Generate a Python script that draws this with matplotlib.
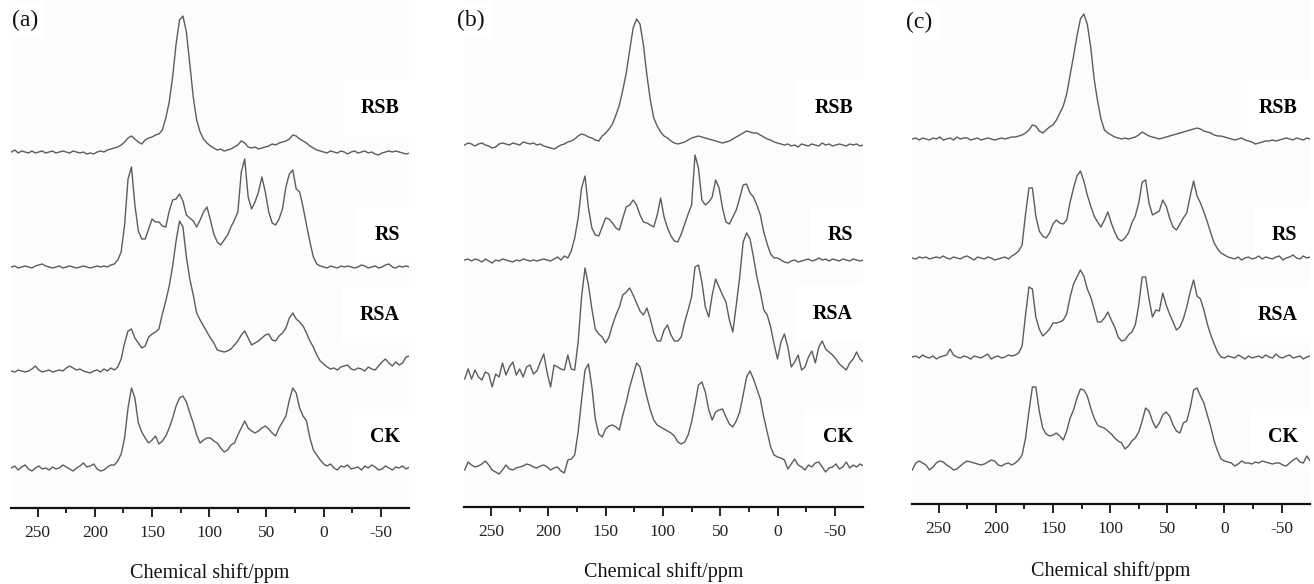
import matplotlib
matplotlib.use("Agg")
import matplotlib.pyplot as plt
from matplotlib.ticker import FixedLocator, MultipleLocator

plt.rcParams['font.family'] = ['Liberation Serif', 'DejaVu Serif']
plt.rcParams['axes.unicode_minus'] = False

# Chemical shift sampling positions (ppm)
ppm = [273, 270, 267, 264, 261, 258, 255, 252, 249, 246,
       243, 240, 237, 234, 231, 228, 225, 222, 219, 216,
       213, 210, 207, 204, 201, 198, 195, 192, 189, 186,
       183, 180, 177, 174, 171, 168, 165, 162, 159, 156,
       153, 150, 147, 144, 141, 138, 135, 132, 129, 126,
       123, 120, 117, 114, 111, 108, 105, 102, 99, 96,
       93, 90, 87, 84, 81, 78, 75, 72, 69, 66,
       63, 60, 57, 54, 51, 48, 45, 42, 39, 36,
       33, 30, 27, 24, 21, 18, 15, 12, 9, 6,
       3, 0, -3, -6, -9, -12, -15, -18, -21, -24,
       -27, -30, -33, -36, -39, -42, -45, -48, -51, -54,
       -57, -60, -63, -66, -69, -72, -75]

samples = ["RSB", "RS", "RSA", "CK"]
tick_values = [250, 200, 150, 100, 50, 0, -50]
panel_tags = ["(a)", "(b)", "(c)"]
x_label = "Chemical shift/ppm"

# ---- panel (a) intensities ----
a_rsb = [0, 2, -1, 1, 0, -1, 1, -1, 0, 1,
         -1, 0, 1, -1, 0, 1, 0, -1, 1, 0,
         -1, 0, -2, -1, -2, 0, 1, 0, 2, 3,
         4, 5, 7, 10, 14, 16, 13, 10, 8, 12,
         14, 15, 17, 18, 22, 34, 50, 75, 108, 132,
         136, 120, 88, 55, 32, 20, 13, 9, 6, 4,
         2, 3, 1, 2, 3, 5, 7, 11, 9, 5,
         4, 5, 3, 4, 5, 6, 8, 7, 9, 10,
         11, 13, 17, 16, 13, 11, 9, 6, 4, 2,
         1, 0, -1, 1, 0, -1, 1, 0, -2, 0,
         1, -1, 0, 1, -1, 0, -2, -3, -1, 0,
         1, 0, 1, 0, -1, -2, -1]
a_rs = [0, 1, -1, 0, 1, 0, -1, 1, 2, 3,
        1, 0, -1, 0, 1, -1, 0, 1, 0, -1,
        0, 1, 0, -1, 0, 1, 0, 1, 0, 2,
        3, 7, 15, 42, 88, 100, 62, 36, 28, 28,
        38, 48, 45, 45, 41, 40, 56, 67, 68, 73,
        66, 52, 49, 46, 40, 47, 55, 60, 47, 33,
        25, 22, 27, 32, 40, 47, 55, 95, 108, 70,
        58, 65, 75, 90, 75, 55, 44, 42, 48, 58,
        80, 93, 97, 78, 75, 60, 42, 25, 10, 3,
        1, 0, -1, 1, 0, -1, 1, 0, 1, 0,
        -1, 0, 2, 1, -1, 0, 1, -1, 0, 2,
        3, 0, -1, 1, 0, 1, 0]
a_rsa = [0, -1, 1, 0, -1, 0, 2, 5, 1, -1,
         0, 1, -1, 0, 1, 0, 3, 5, 3, 1,
         2, 0, -1, -2, 0, 1, -1, 2, 0, 3,
         1, 4, 12, 28, 40, 42, 33, 28, 23, 25,
         34, 37, 39, 42, 57, 70, 85, 105, 130, 150,
         144, 114, 92, 76, 58, 51, 45, 39, 33, 28,
         21, 20, 19, 20, 22, 26, 30, 36, 40, 33,
         26, 28, 30, 33, 36, 37, 31, 30, 35, 38,
         43, 53, 58, 52, 49, 45, 38, 30, 24, 16,
         10, 7, 4, 2, 3, 1, 4, 5, 6, 2,
         1, 3, 2, 0, 4, 2, 1, 5, 9, 12,
         8, 5, 9, 6, 8, 14, 15]
a_ck = [0, 2, -2, 1, 3, -1, -3, 0, 2, -1,
        0, -2, 1, -1, 0, 3, 1, -1, -3, 0,
        2, 5, 1, 2, 4, -1, -3, -2, 1, 3,
        3, 7, 14, 30, 60, 80, 70, 45, 36, 30,
        25, 28, 32, 24, 27, 32, 40, 50, 62, 70,
        72, 66, 55, 45, 33, 25, 28, 30, 30, 27,
        25, 20, 16, 18, 23, 25, 33, 40, 47, 40,
        37, 35, 37, 40, 42, 39, 35, 32, 40, 46,
        52, 68, 80, 75, 60, 52, 47, 30, 18, 13,
        8, 4, 2, 4, 0, -2, 2, 1, 3, -1,
        0, 1, -2, 2, 0, 3, 1, -2, -1, 2,
        0, -2, 1, 0, 2, -1, 1]

# ---- panel (b) intensities ----
b_rsb = [0, 2, 1, -1, 1, 2, 0, -1, -3, -2,
         1, 2, 1, 0, 2, 1, 0, 3, 2, 1,
         2, 0, 1, -1, -2, -3, -4, -2, 0, 1,
         3, 4, 6, 9, 11, 10, 8, 7, 5, 4,
         9, 12, 16, 21, 30, 40, 55, 72, 95, 117,
         126, 121, 100, 70, 45, 27, 19, 13, 9, 7,
         4, 2, 1, 2, 3, 5, 7, 8, 9, 8,
         7, 6, 5, 4, 3, 2, 3, 4, 6, 8,
         10, 12, 14, 13, 12, 12, 10, 8, 6, 5,
         3, 2, 1, 0, 1, -1, 0, -2, 1, 0,
         -1, 1, 0, -1, 2, 0, 1, -1, 0, 1,
         0, -1, 1, 0, 1, -1, 0]
b_rs = [0, 1, -1, 1, 0, -2, 1, -1, -3, 0,
        -1, 1, 0, -1, -2, 0, -1, 1, 0, -1,
        0, -1, 0, 1, 0, -1, 1, 3, 0, 4,
        2, 9, 22, 42, 72, 84, 52, 32, 25, 24,
        33, 42, 41, 37, 32, 30, 42, 53, 55, 60,
        55, 45, 38, 37, 35, 33, 45, 62, 43, 32,
        24, 19, 18, 26, 36, 46, 55, 105, 92, 60,
        55, 58, 63, 80, 72, 52, 38, 36, 43, 50,
        62, 75, 76, 67, 63, 55, 45, 28, 16, 6,
        2, 2, 0, -2, -3, -1, 0, -2, -1, 0,
        1, -1, 0, 2, 0, 1, -1, 1, 0, -1,
        1, 0, -1, 1, 0, -1, 0]
b_rsa = [-2, 8, -2, 7, 0, -3, 5, 3, -10, 3,
         0, 14, 2, 10, 15, 2, 8, 0, 10, 12,
         3, 6, 15, 23, 4, -10, 12, 10, 8, 7,
         22, 8, 7, 35, 80, 109, 92, 68, 48, 43,
         40, 34, 40, 52, 62, 70, 82, 85, 89, 82,
         74, 66, 62, 69, 58, 44, 36, 36, 47, 52,
         42, 36, 36, 40, 55, 67, 80, 110, 112, 95,
         70, 60, 82, 98, 90, 82, 75, 57, 45, 72,
         100, 135, 144, 138, 120, 100, 85, 67, 62, 50,
         33, 18, 35, 43, 30, 10, 15, 22, 7, 10,
         20, 26, 14, 30, 36, 28, 25, 22, 18, 13,
         10, 7, 14, 18, 25, 18, 15]
b_ck = [-3, 5, 2, 0, 1, 3, 6, 2, -3, -5,
        -7, -3, 2, -2, -3, -1, 0, 1, 3, 2,
        0, -1, 1, 2, 0, -3, -1, 0, -4, -6,
        7, 8, 12, 35, 67, 97, 103, 80, 48, 33,
        30, 38, 41, 42, 40, 37, 52, 65, 80, 92,
        104, 100, 85, 70, 57, 47, 42, 40, 38, 36,
        34, 31, 25, 23, 25, 32, 45, 63, 82, 85,
        75, 57, 47, 55, 57, 58, 50, 43, 40, 46,
        55, 72, 90, 96, 88, 78, 68, 50, 35, 20,
        12, 10, 9, 7, -2, 3, 8, 2, 0, -3,
        2, 0, 4, 5, 0, -5, -1, 0, 3, -2,
        0, 5, -1, 2, 0, 3, 1]

# ---- panel (c) intensities ----
c_rsb = [0, 1, -1, 1, 0, -1, 1, 0, 2, -1,
         0, 1, -1, 2, 0, 1, 1, -1, 0, 1,
         -1, 0, 1, 0, -1, 0, 1, 0, 1, 2,
         2, 3, 4, 6, 9, 14, 13, 8, 6, 9,
         12, 14, 19, 26, 33, 45, 64, 83, 103, 120,
         125, 115, 92, 60, 38, 20, 9, 6, 4, 2,
         1, 0, 1, 0, 1, 2, 4, 7, 5, 3,
         2, 1, 0, 1, 2, 3, 4, 5, 6, 7,
         8, 9, 10, 11, 10, 8, 7, 6, 4, 3,
         3, 2, 1, 0, -1, 0, 1, -1, -2, -3,
         -5, -4, -3, -2, -2, -1, -2, -1, 0, 1,
         0, -1, 1, 0, -1, 1, 0]
c_rs = [0, -1, 1, 0, 1, -1, 0, 1, 0, 2,
        0, -1, 1, 0, -1, 1, 2, 0, -2, 1,
        0, -1, 1, 0, -2, -1, 0, 1, -1, 2,
        4, 7, 13, 44, 70, 70, 42, 27, 22, 20,
        25, 34, 38, 35, 34, 38, 56, 70, 82, 87,
        77, 63, 52, 42, 36, 31, 38, 46, 35, 26,
        19, 17, 20, 25, 35, 42, 55, 76, 78, 55,
        43, 45, 47, 58, 52, 40, 31, 28, 34, 40,
        45, 62, 77, 62, 55, 46, 36, 25, 15, 9,
        5, 3, 1, 0, -1, 1, -2, 0, 1, -1,
        0, 2, -1, 1, 0, -1, 1, 2, -2, 0,
        1, 3, 0, -1, 2, 0, 1]
c_rsa = [0, 1, -1, 2, 0, -1, 1, -2, 0, 1,
         2, 8, 2, 0, -1, 1, 0, -2, 1, 0,
         -1, 1, 3, -2, 0, 1, -1, 0, 2, 1,
         2, 4, 11, 42, 70, 68, 40, 28, 21, 24,
         28, 34, 34, 35, 37, 43, 60, 73, 80, 87,
         81, 68, 60, 48, 35, 35, 39, 45, 37, 30,
         20, 16, 17, 22, 25, 32, 52, 80, 80, 58,
         40, 47, 46, 64, 52, 43, 35, 27, 30, 38,
         50, 65, 77, 61, 58, 47, 33, 22, 13, 5,
         0, -1, 1, 0, -1, 2, 0, -2, 1, -1,
         0, 1, -1, 2, 0, -1, 3, 0, -1, 1,
         2, -1, 0, 1, -2, 0, 1]
c_ck = [-7, 0, 2, 0, -2, -7, -4, 0, 2, 1,
        -2, -4, -7, -6, -3, 0, 2, 1, 0, -1,
        -2, -1, 1, 3, 2, -2, -3, -1, 0, -2,
        0, 3, 8, 25, 52, 76, 76, 52, 35, 29,
        27, 28, 30, 27, 23, 32, 45, 53, 65, 74,
        73, 67, 55, 45, 38, 36, 35, 32, 29, 25,
        22, 20, 14, 17, 22, 25, 31, 42, 55, 52,
        42, 35, 40, 48, 51, 47, 38, 32, 30, 40,
        42, 55, 73, 75, 67, 60, 48, 36, 22, 12,
        4, 2, 1, 0, -3, -1, 2, 0, 0, -1,
        1, 0, 2, 1, 0, -1, 0, 0, -2, -3,
        0, 3, 5, 1, 0, 7, 2]

W, H = 1314, 584
fig = plt.figure(figsize=(W / 100, H / 100), dpi=100)
fig.patch.set_facecolor("white")

# layout of each panel, in pixels: axis extent, axis-line height, trace offsets
layout = [
    dict(left=11, right=409, base=508, xlim=(273.3, -74.6),
         spectra=[a_rsb, a_rs, a_rsa, a_ck], offsets=[356, 241, 137, 40],
         label_y=[400, 273, 193, 71], label_x=-66.5, tag_xy=(12, 20), xlabel_y=573),
    dict(left=464, right=863, base=507, xlim=(273.6, -74.6),
         spectra=[b_rsb, b_rs, b_rsa, b_ck], offsets=[362, 247, 130, 40],
         label_y=[399, 272, 193, 70], label_x=-66.0, tag_xy=(457, 20), xlabel_y=572),
    dict(left=912, right=1310, base=504, xlim=(273.3, -74.8),
         spectra=[c_rsb, c_rs, c_rsa, c_ck], offsets=[365, 246, 147, 41],
         label_y=[396, 269, 189, 67], label_x=-64.0, tag_xy=(906, 22), xlabel_y=571),
]

for tag, cfg in zip(panel_tags, layout):
    base = cfg["base"]
    ax = fig.add_axes([cfg["left"] / W, 1 - base / H,
                       (cfg["right"] - cfg["left"]) / W, base / H])
    ax.set_facecolor("#fcfcfc")
    ax.set_xlim(*cfg["xlim"])
    ax.set_ylim(0, base)

    for values, off in zip(cfg["spectra"], cfg["offsets"]):
        ax.plot(ppm, [v + off for v in values], color="#5c5c5c", lw=1.0,
                zorder=2, solid_joinstyle="round")

    for name, ly in zip(samples, cfg["label_y"]):
        ax.text(cfg["label_x"], ly, name, ha="right", va="center",
                fontsize=14.4, fontweight="bold", color="black", zorder=1,
                bbox=dict(boxstyle="square,pad=0.9", fc="white", ec="none"))

    for side in ("left", "right", "top"):
        ax.spines[side].set_visible(False)
    ax.spines["bottom"].set_linewidth(1.6)
    ax.spines["bottom"].set_color("#111111")
    ax.yaxis.set_visible(False)
    ax.xaxis.set_major_locator(FixedLocator(tick_values))
    ax.xaxis.set_minor_locator(MultipleLocator(25))
    ax.tick_params(axis="x", which="major", direction="out", length=6.5,
                   width=1.3, color="#111111", labelsize=12.5, pad=6,
                   labelcolor="#222222")
    ax.tick_params(axis="x", which="minor", direction="out", length=3.5,
                   width=1.3, color="#111111")

    cx = (cfg["left"] + cfg["right"]) / 2
    fig.text(cx / W, 1 - cfg["xlabel_y"] / H, x_label, ha="center",
             va="center", fontsize=14.5, color="#111111")
    tx, ty = cfg["tag_xy"]
    fig.text(tx / W, 1 - ty / H, tag, ha="left", va="center", fontsize=17,
             color="#111111",
             bbox=dict(boxstyle="square,pad=0.3", fc="white", ec="none"))

fig.savefig("out.png", dpi=100, facecolor="white")
